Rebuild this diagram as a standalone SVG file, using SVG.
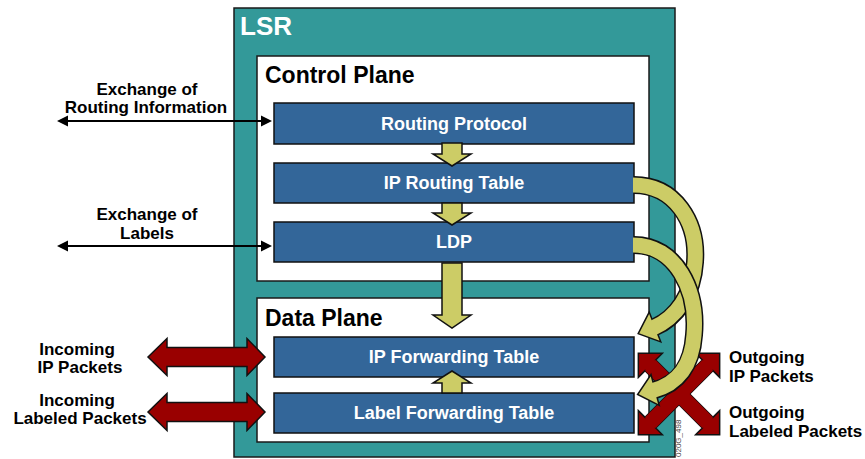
<svg xmlns="http://www.w3.org/2000/svg" width="865" height="459" viewBox="0 0 865 459">
<style>
.teal{fill:#339999;stroke:#1a1a1a;stroke-width:1.5}
.plane{fill:#ffffff;stroke:#1a1a1a;stroke-width:1.5}
.box{fill:#336699;stroke:#111111;stroke-width:1.5}
.bt{font-family:"Liberation Sans",Arial,sans-serif;font-weight:bold;font-size:18px;fill:#ffffff;text-anchor:middle}
.lbl{font-family:"Liberation Sans",Arial,sans-serif;font-weight:bold;font-size:17px;fill:#000000}
.ya{fill:#cccc66;stroke:#111111;stroke-width:1.5;stroke-linejoin:miter}
.ra{fill:#990000;stroke:#111111;stroke-width:1.5}
.bo{fill:none;stroke:#111111;stroke-width:18}
.yb{fill:none;stroke:#cccc66;stroke-width:15}
</style>
<g id="lsr">
<rect class="teal" x="234" y="8" width="441" height="449"/>
<text x="240" y="35" font-family="Liberation Sans,Arial,sans-serif" font-weight="bold" font-size="26" fill="#ffffff">LSR</text>
</g>
<g id="control-plane">
<rect class="plane" x="257" y="56" width="392" height="225"/>
<text x="265" y="83" font-family="Liberation Sans,Arial,sans-serif" font-weight="bold" font-size="23" fill="#000">Control Plane</text>
</g>
<g id="data-plane">
<rect class="plane" x="257" y="298" width="392" height="144"/>
<text x="265" y="326" font-family="Liberation Sans,Arial,sans-serif" font-weight="bold" font-size="23" fill="#000">Data Plane</text>
</g>
<g id="routing-protocol">
<rect class="box" x="274" y="103" width="360" height="41"/>
<text class="bt" x="454" y="130">Routing Protocol</text>
</g>
<g id="ip-routing-table">
<rect class="box" x="274" y="163" width="360" height="40"/>
<text class="bt" x="454" y="189">IP Routing Table</text>
</g>
<g id="ldp">
<rect class="box" x="274" y="222" width="360" height="40"/>
<text class="bt" x="454" y="248">LDP</text>
</g>
<g id="ip-forwarding-table">
<rect class="box" x="274" y="337" width="360" height="40"/>
<text class="bt" x="454" y="363">IP Forwarding Table</text>
</g>
<g id="label-forwarding-table">
<rect class="box" x="274" y="393" width="360" height="40"/>
<text class="bt" x="454" y="419">Label Forwarding Table</text>
</g>
<g id="connectors">
<polygon class="ya" points="442,143 462,143 462,154 471,154 452,166 433,154 442,154"/>
<polygon class="ya" points="442,203 462,203 462,213 471,213 452,225 433,213 442,213"/>
<polygon class="ya" points="442,263 462,263 462,315 471,315 452,328 433,315 442,315"/>
<polygon class="ya" points="442,393 462,393 462,383 471,383 452,371 433,383 442,383"/>
<line x1="66" y1="121" x2="263" y2="121" stroke="#000" stroke-width="2"/>
<polygon points="57,121 68,115.5 68,126.5" fill="#000"/>
<polygon points="272,121 261,115.5 261,126.5" fill="#000"/>
<line x1="66" y1="246" x2="263" y2="246" stroke="#000" stroke-width="2"/>
<polygon points="57,246 68,240.5 68,251.5" fill="#000"/>
<polygon points="272,246 261,240.5 261,251.5" fill="#000"/>
<polygon class="ra" points="148,357 167,338.5 167,347.5 247,347.5 247,338.5 265,357 247,375.5 247,366.5 167,366.5 167,375.5"/>
<polygon class="ra" points="148,412 167,393.5 167,402.5 247,402.5 247,393.5 265,412 247,430.5 247,421.5 167,421.5 167,430.5"/>
<g transform="translate(679,394)">
<polygon class="ra" transform="rotate(45)" points="-57.5,0 -40.5,-17 -40.5,-7.5 40.5,-7.5 40.5,-17 57.5,0 40.5,17 40.5,7.5 -40.5,7.5 -40.5,17"/>
<polygon class="ra" transform="rotate(-45)" points="-57.5,0 -40.5,-17 -40.5,-7.5 40.5,-7.5 40.5,-17 57.5,0 40.5,17 40.5,7.5 -40.5,7.5 -40.5,17"/>
<polygon fill="#990000" transform="rotate(45)" points="-40.5,-7.5 40.5,-7.5 40.5,7.5 -40.5,7.5"/>
<polygon fill="#990000" transform="rotate(-45)" points="-40.5,-7.5 40.5,-7.5 40.5,7.5 -40.5,7.5"/>
</g>
<path class="bo" d="M634,185 C675,185 698,222 695,262 C693,295 676,318 655,327"/>
<polygon class="ya" points="660.8,341.9 638.2,333.6 649.2,312.1"/>
<path class="yb" d="M633,185 C675,185 698,222 695,262 C693,295 676,318 653,328"/>
<path class="bo" d="M634,245 C676,245 698,290 694,335 C692,365 678,384 655,390"/>
<polygon class="ya" points="659.2,405.4 637.6,394.5 651,374.6"/>
<path class="yb" d="M633,245 C676,245 698,290 694,335 C692,365 678,384 653,390.5"/>
</g>
<g id="labels">
<text class="lbl" x="147" y="95" text-anchor="middle">Exchange of</text>
<text class="lbl" x="146" y="113" text-anchor="middle">Routing Information</text>
<text class="lbl" x="147" y="220" text-anchor="middle">Exchange of</text>
<text class="lbl" x="147" y="238.5" text-anchor="middle">Labels</text>
<text class="lbl" x="77" y="355" text-anchor="middle">Incoming</text>
<text class="lbl" x="80" y="373" text-anchor="middle">IP Packets</text>
<text class="lbl" x="77" y="406" text-anchor="middle">Incoming</text>
<text class="lbl" x="80" y="424" text-anchor="middle">Labeled Packets</text>
<text class="lbl" x="729" y="363">Outgoing</text>
<text class="lbl" x="729" y="382">IP Packets</text>
<text class="lbl" x="729" y="418">Outgoing</text>
<text class="lbl" x="729" y="437">Labeled Packets</text>
<text x="681" y="457" transform="rotate(-90 681 457)" font-family="Liberation Sans,Arial,sans-serif" font-size="8" fill="#444">020G_498</text>
</g>
</svg>
